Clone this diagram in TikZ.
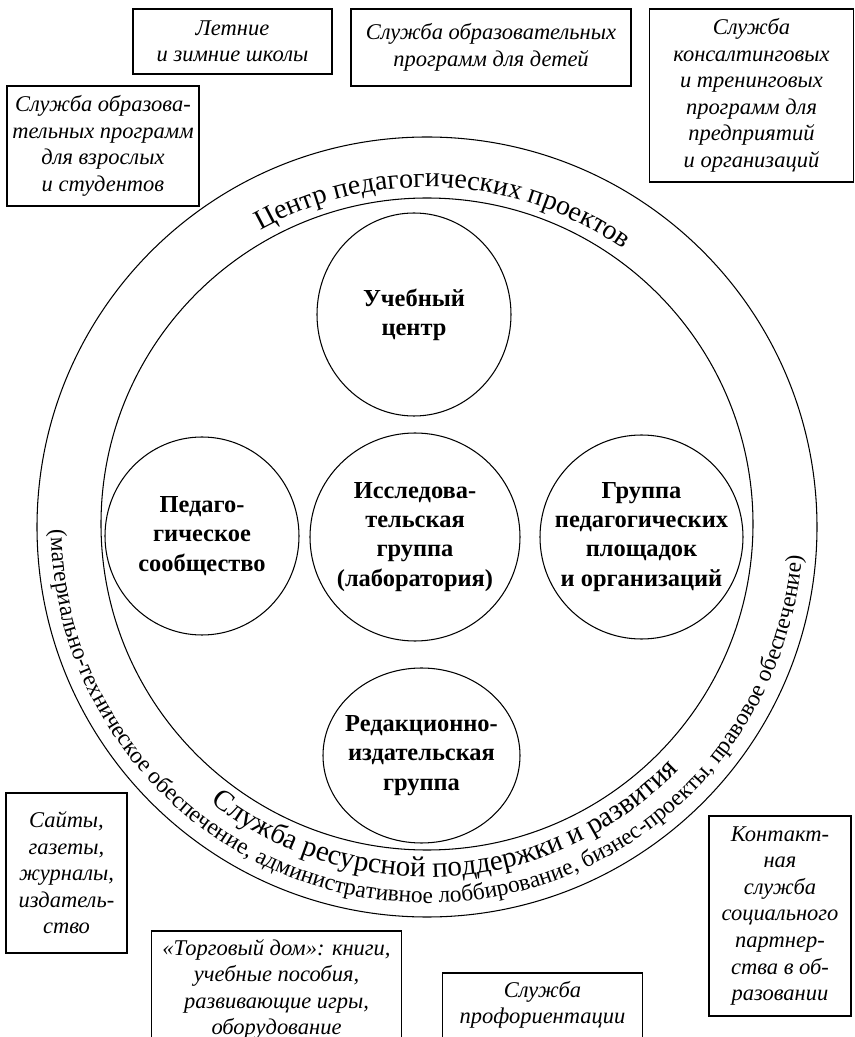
\documentclass[tikz,border=0pt]{standalone}
\usepackage{fontspec}
\setmainfont{Liberation Serif}
\usetikzlibrary{shapes.geometric,decorations.text}

\begin{document}
\begin{tikzpicture}[line width=0.6pt,
        box/.style={draw, align=center, inner xsep=0.05cm, inner ysep=0.15cm, font=\fontsize{12.8}{15.1}\selectfont\itshape},
        dept/.style={draw, ellipse, align=center, inner sep=-1cm, font=\fontsize{13.9}{16.6}\selectfont\bfseries},
        ring/.style={draw, circle, inner sep=0pt}]
        \useasboundingbox (0, 0) rectangle (17.1, 20.74);
        \clip (0, 0) rectangle (17.1, 20.74);

        \node[ring, minimum size=15.6cm] at (8.54, 10.20) (outer) {};
        \node[ring, minimum size=13.04cm] at (8.54, 10.26) (inner) {};

        \node[dept, minimum width=3.88cm, minimum height=4.06cm] at (8.28, 14.45) (study) {Учебный\\центр};
        \node[dept, minimum width=3.88cm, minimum height=3.96cm] at (4.04, 10.02) (pedcom) {Педаго-\\гическое\\сообщество};
        \node[dept, minimum width=4.20cm, minimum height=4.16cm] at (8.30, 10.00) (research) {Исследова-\\тельская\\группа\\(лаборатория)};
        \node[dept, minimum width=4.06cm, minimum height=4.08cm] at (12.83, 10.00) (sites) {Группа\\педагогических\\площадок\\и организаций};
        \node[dept, minimum width=3.94cm, minimum height=3.50cm] at (8.43, 5.63) (publish) {Редакционно-\\издательская\\группа};

        \path[decorate, decoration={text along path, text align=center,
            text={|\fontsize{15.9}{18}\selectfont|Центр педагогических проектов}}]
            ([shift={(147:6.8)}]outer.center) arc[start angle=147, end angle=27, radius=6.8];
        \path[decorate, decoration={text along path, text align=center,
            text={|\fontsize{16.5}{18}\selectfont|Служба ресурсной поддержки и развития}}]
            ([shift={(204:7.0)}]outer.center) arc[start angle=204, end angle=344, radius=7.0];
        \path[decorate, decoration={text along path, text align=center,
            text={|\fontsize{13.3}{15}\selectfont|(материально-техническое обеспечение, административное лоббирование, бизнес-проекты, правовое обеспечение)}}]
            ([shift={(168:7.52)}]outer.center) arc[start angle=168, end angle=368, radius=7.52];

        \node[box, minimum width=3.98cm, minimum height=1.30cm] at (4.65, 19.91) (summer) {Летние\\и зимние школы};
        \node[box, minimum width=5.60cm, minimum height=1.54cm] at (9.82, 19.79) (kids) {Служба образовательных\\программ для детей};
        \node[box, minimum width=4.08cm, minimum height=3.46cm] at (15.03, 18.83) (consult) {Служба\\консалтинговых\\и тренинговых\\программ для\\предприятий\\и организаций};
        \node[box, minimum width=3.84cm, minimum height=2.40cm] at (2.06, 17.82) (adults) {Служба образова-\\тельных программ\\для взрослых\\и студентов};
        \node[box, minimum width=2.42cm, minimum height=3.20cm] at (1.33, 3.28) (media) {Сайты,\\газеты,\\журналы,\\издатель-\\ство};
        \node[box, minimum width=2.84cm, minimum height=4.00cm] at (15.60, 2.42) (contact) {Контакт-\\ная\\служба\\социального\\партнер-\\ства в об-\\разовании};

        \node[box, draw=none, anchor=north, minimum width=4.98cm] at (5.53, 2.12) (shop) {«Торговый дом»: книги,\\учебные пособия,\\развивающие игры,\\оборудование};
        \draw ([yshift=-1cm]shop.south west) |- (shop.north east) -- ([yshift=-1cm]shop.south east);
        \node[box, draw=none, anchor=north, minimum width=3.98cm] at (10.85, 1.28) (career) {Служба\\профориентации};
        \draw ([yshift=-1cm]career.south west) |- (career.north east) -- ([yshift=-1cm]career.south east);
    \end{tikzpicture}
\end{document}
